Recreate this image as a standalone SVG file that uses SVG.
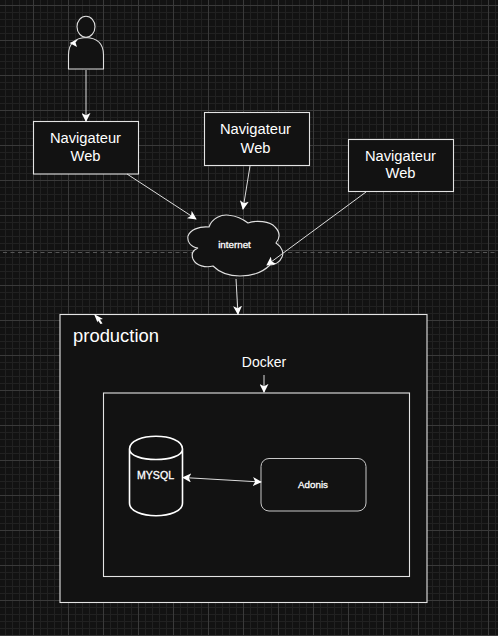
<svg xmlns="http://www.w3.org/2000/svg" width="498" height="636" viewBox="0 0 498 636">
<style>
.t{font-family:"Liberation Sans",Arial,sans-serif;fill:#fff;text-anchor:middle}
.s{stroke:#fff;stroke-width:.3}
.box{fill:#121212;stroke:#e4e4e4;stroke-width:1.1}
.sh{fill:#121212;stroke:#e0e0e0;stroke-width:1.1}
.c{fill:none;stroke:#dcdcdc;stroke-width:1}
.h{fill:#fff;stroke:none}
</style>
<defs>
<pattern id="minor" width="7" height="7" patternUnits="userSpaceOnUse" x="5" y="5"><path d="M0 .5H7M.5 0V7" fill="none" stroke="#212121" stroke-width="1"/></pattern>
<pattern id="major" width="35" height="35" patternUnits="userSpaceOnUse" x="33" y="5"><path d="M0 .5H35M.5 0V35" fill="none" stroke="#3a3a3a" stroke-width="1"/></pattern>
<marker id="a" viewBox="0 0 10 10" refX="9" refY="5" markerWidth="9" markerHeight="9" markerUnits="userSpaceOnUse" orient="auto-start-reverse"><path d="M0 0L10 5L0 10L2.500 5Z" fill="#fff"/></marker>
</defs>
<rect width="498" height="636" fill="#121212"/>
<rect width="498" height="636" fill="url(#minor)"/>
<rect width="498" height="636" fill="url(#major)"/>
<path d="M3 252.500H498" stroke="#555" stroke-width="1" stroke-dasharray="4 3.500" fill="none"/>

<g id="user">
<path class="sh" d="M68.500 69V55C68.500 44 74 38 86 37.500C98 38 103.500 44 103.500 55V69Z"/>
<ellipse class="sh" cx="86" cy="26.700" rx="9" ry="10.500"/>
</g>
<g id="nav1"><rect class="box" x="33.500" y="121.500" width="105" height="52.500"/><text class="t" font-size="14.700" x="85.500" y="143">Navigateur</text><text class="t" font-size="14.700" x="85.500" y="161">Web</text></g>
<g id="nav2"><rect class="box" x="204.500" y="112.500" width="105" height="53"/><text class="t" font-size="14.700" x="255.500" y="134">Navigateur</text><text class="t" font-size="14.700" x="255.500" y="153">Web</text></g>
<g id="nav3"><rect class="box" x="348.500" y="139.500" width="105" height="52"/><text class="t" font-size="14.700" x="400.500" y="161">Navigateur</text><text class="t" font-size="14.700" x="400.500" y="178">Web</text></g>
<g id="internet">
<path class="sh" d="M209 227C212 218 222 214 229 215.200C237 216 243 219 248 223C256 220 270 221 275 227C280 232 280 238 276 243C282 247 284 253 282 257C280 262 275 265 270 265C262 273 250 276 240 276C228 276 219 272 213 266C206 268 196 266 193 259C191 254 193 250 198 248C190 247 187 241 188 236C190 230 199 226 209 227Z"/>
<text class="t s" font-size="9.800" x="234.500" y="247.500">internet</text>
</g>
<g id="production"><rect class="box" x="60" y="314.500" width="367" height="288"/><text class="t" font-size="18.400" x="116" y="342">production</text></g>
<g id="docker-label"><text class="t" font-size="14" x="264" y="367">Docker</text></g>
<g id="docker"><rect class="box" x="103.500" y="393" width="306" height="183.500"/></g>
<g id="mysql">
<path d="M129.500 449V503C129.500 520 182.500 520 182.500 503V449C182.500 432 129.500 432 129.500 449C129.500 463 182.500 463 182.500 449" fill="#121212" stroke="#fff" stroke-width="1.600"/>
<text class="t s" font-size="10.600" x="155.500" y="479">MYSQL</text>
</g>
<g id="adonis"><rect x="261" y="458.500" width="105" height="52.500" rx="8" fill="#121212" stroke="#c8c8c8" stroke-width="1"/><text class="t s" font-size="9.800" x="313" y="487.500">Adonis</text></g>

<g id="connectors">
<path class="c" d="M86 70V121" marker-end="url(#a)"/>
<path class="c" d="M127 174L196 219" marker-end="url(#a)"/>
<path class="c" d="M250 166L243 209" marker-end="url(#a)"/>
<path class="c" d="M366 192L267 265" marker-end="url(#a)"/>
<path class="c" d="M236 279L238 314" marker-end="url(#a)"/>
<path class="c" d="M264 375V392" marker-end="url(#a)"/>
<path class="c" stroke-width="1.300" d="M183 477.500L261 482" marker-start="url(#a)" marker-end="url(#a)"/>
<path class="h" d="M69.500 43L78 39.500L75.500 42.500L77 47Z"/>
<path class="h" d="M94 314L103 319L100 319.500L102.500 323.500L100.500 324L98 320.500L97.500 322.500Z"/>
</g>
</svg>
